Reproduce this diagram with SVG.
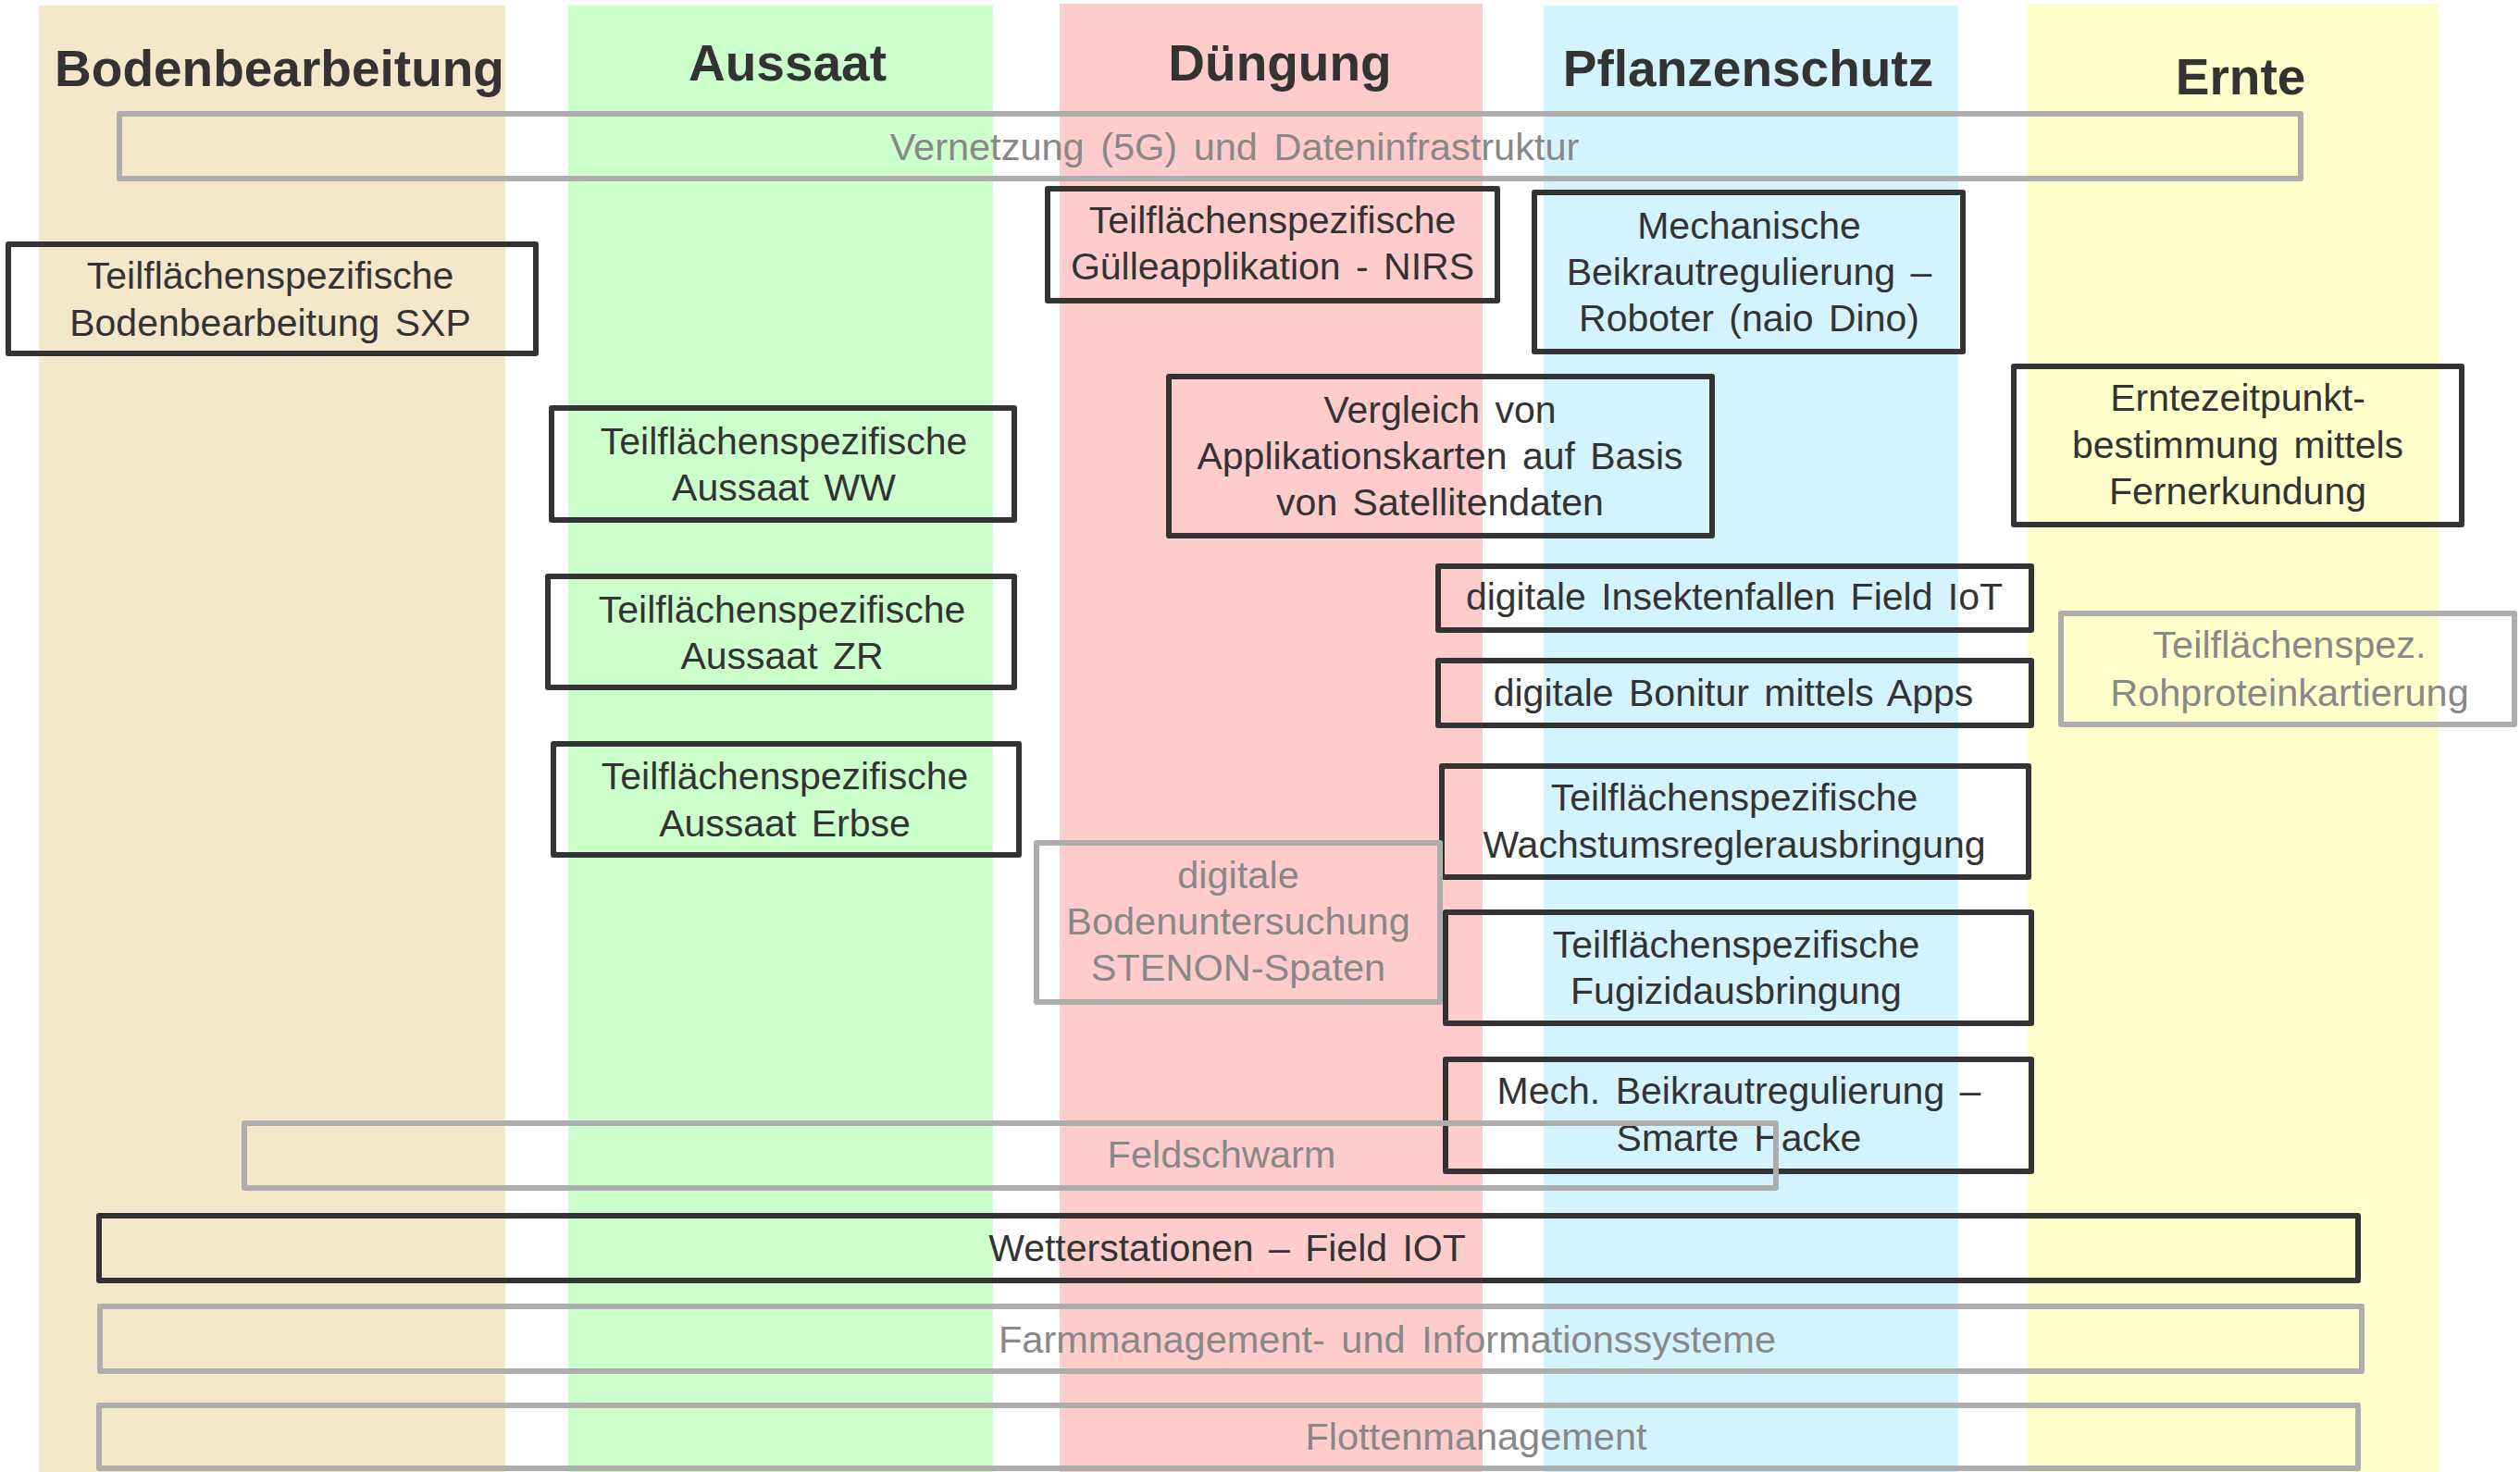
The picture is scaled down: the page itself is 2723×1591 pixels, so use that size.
<svg xmlns="http://www.w3.org/2000/svg" width="2723" height="1591" viewBox="0 0 2723 1591">
<style>
text{font-family:"Liberation Sans",Arial,sans-serif;text-anchor:middle}
.title{font-size:55px;font-weight:bold;fill:#333}
.t{font-size:41px;fill:#333;word-spacing:5px}
.g{font-size:41.5px;fill:#888;word-spacing:6px}
.box{fill:none;stroke:#333;stroke-width:6;stroke-linejoin:round}
.gbox{fill:none;stroke:#adadad;stroke-width:6;stroke-linejoin:round}
</style>
<rect width="2723" height="1591" fill="#fff"/>
<g id="columns">
<rect id="col-boden" x="42" y="6" width="504" height="1585" fill="#f3e8c9"/>
<rect id="col-aussaat" x="614" y="6" width="459" height="1585" fill="#ccffcc"/>
<rect id="col-duengung" x="1145" y="4" width="457" height="1587" fill="#ffcccc"/>
<rect id="col-pflanzenschutz" x="1668" y="6" width="448" height="1585" fill="#d3f3ff"/>
<rect id="col-ernte" x="2191" y="4" width="444" height="1587" fill="#ffffcc"/>
</g>
<g id="titles">
<text class="title" x="302" y="93">Bodenbearbeitung</text>
<text class="title" x="851" y="87">Aussaat</text>
<text class="title" x="1383" y="87">Düngung</text>
<text class="title" x="1889" y="93">Pflanzenschutz</text>
<text class="title" x="2421" y="102">Ernte</text>
</g>
<g id="connectors"/>
<g id="n-vernetzung"><rect class="gbox" x="129" y="123" width="2357" height="70"/><text class="g" x="1334" y="173">Vernetzung (5G) und Dateninfrastruktur</text></g>
<g id="n-sxp"><rect class="box" x="9" y="264" width="570" height="118"/><text class="t" x="292" y="312">Teilflächenspezifische</text><text class="t" x="292" y="363">Bodenbearbeitung SXP</text></g>
<g id="n-guelle"><rect class="box" x="1132" y="204" width="486" height="121"/><text class="t" x="1375" y="252">Teilflächenspezifische</text><text class="t" x="1375" y="302">Gülleapplikation - NIRS</text></g>
<g id="n-mechanische"><rect class="box" x="1658" y="208" width="463" height="172"/><text class="t" x="1890" y="258">Mechanische</text><text class="t" x="1890" y="308">Beikrautregulierung –</text><text class="t" x="1890" y="358">Roboter (naio Dino)</text></g>
<g id="n-aussaat-ww"><rect class="box" x="596" y="441" width="500" height="121"/><text class="t" x="847" y="491">Teilflächenspezifische</text><text class="t" x="847" y="541">Aussaat WW</text></g>
<g id="n-aussaat-zr"><rect class="box" x="592" y="623" width="504" height="120"/><text class="t" x="845" y="673">Teilflächenspezifische</text><text class="t" x="845" y="723">Aussaat ZR</text></g>
<g id="n-aussaat-erbse"><rect class="box" x="598" y="804" width="503" height="120"/><text class="t" x="848" y="853">Teilflächenspezifische</text><text class="t" x="848" y="904">Aussaat Erbse</text></g>
<g id="n-vergleich"><rect class="box" x="1263" y="407" width="587" height="172"/><text class="t" x="1556" y="457">Vergleich von</text><text class="t" x="1556" y="507">Applikationskarten auf Basis</text><text class="t" x="1556" y="557">von Satellitendaten</text></g>
<g id="n-erntezeitpunkt"><rect class="box" x="2176" y="396" width="484" height="171"/><text class="t" x="2418" y="444">Erntezeitpunkt-</text><text class="t" x="2418" y="495">bestimmung mittels</text><text class="t" x="2418" y="545">Fernerkundung</text></g>
<g id="n-insekten"><rect class="box" x="1554" y="612" width="641" height="69"/><text class="t" x="1874" y="659">digitale Insektenfallen Field IoT</text></g>
<g id="n-bonitur"><rect class="box" x="1554" y="714" width="641" height="70"/><text class="t" x="1873" y="763">digitale Bonitur mittels Apps</text></g>
<g id="n-rohprotein"><rect class="gbox" x="2227" y="663" width="490" height="120"/><text class="g" x="2474" y="711">Teilflächenspez.</text><text class="g" x="2474" y="763">Rohproteinkartierung</text></g>
<g id="n-wachstum"><rect class="box" x="1558" y="828" width="634" height="120"/><text class="t" x="1874" y="876">Teilflächenspezifische</text><text class="t" x="1874" y="927">Wachstumsreglerausbringung</text></g>
<g id="n-boden"><rect class="gbox" x="1120" y="911" width="436" height="172"/><text class="g" x="1338" y="960">digitale</text><text class="g" x="1338" y="1010">Bodenuntersuchung</text><text class="g" x="1338" y="1060">STENON-Spaten</text></g>
<g id="n-fungizid"><rect class="box" x="1562" y="986" width="633" height="120"/><text class="t" x="1876" y="1035">Teilflächenspezifische</text><text class="t" x="1876" y="1085">Fugizidausbringung</text></g>
<g id="n-hacke"><rect class="box" x="1562" y="1145" width="633" height="121"/><text class="t" x="1879" y="1193">Mech. Beikrautregulierung –</text><text class="t" x="1879" y="1244">Smarte Hacke</text></g>
<g id="n-feldschwarm"><rect class="gbox" x="264" y="1214" width="1655" height="70"/><text class="g" x="1320" y="1262">Feldschwarm</text></g>
<g id="n-wetter"><rect class="box" x="107" y="1314" width="2441" height="70"/><text class="t" x="1326" y="1363">Wetterstationen – Field IOT</text></g>
<g id="n-farm"><rect class="gbox" x="108" y="1412" width="2444" height="70"/><text class="g" x="1499" y="1462">Farmmanagement- und Informationssysteme</text></g>
<g id="n-flotten"><rect class="gbox" x="107" y="1519" width="2441" height="68"/><text class="g" x="1595" y="1567">Flottenmanagement</text></g>
</svg>
